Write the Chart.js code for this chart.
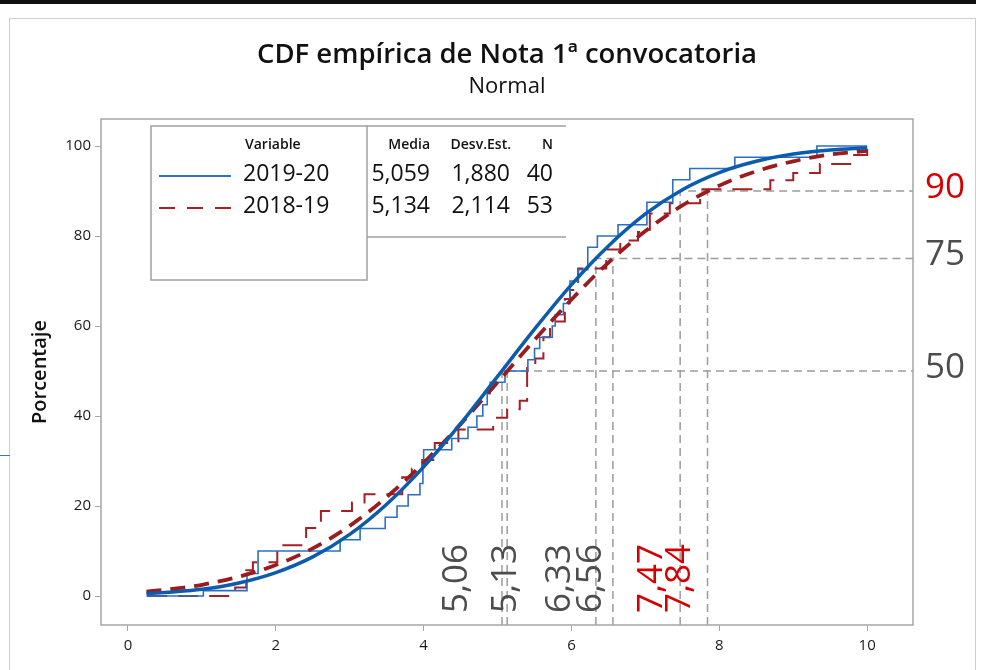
<!DOCTYPE html>
<html>
<head>
<meta charset="utf-8">
<script src="https://cdn.jsdelivr.net/npm/chart.js@4.4.1/dist/chart.umd.min.js"></script>
<style>
  html, body { margin: 0; padding: 0; background: #fff; }
</style>
</head>
<body>
<canvas id="cdfChart" width="988" height="670"></canvas>
<script>
// tick values
const xTicks = [0, 2, 4, 6, 8, 10];
const yTicks = [0, 20, 40, 60, 80, 100];

// series
const seriesNames = ["2019-20", "2018-19"];
const media = [5.059, 5.134];
const desvEst = [1.88, 2.114];
const nCount = [40, 53];

// fitted normal curves
const fitX = [0.25, 0.5, 1, 1.5, 2, 2.5, 3, 3.5, 4, 4.5, 5, 5.5, 6, 6.5, 7, 7.5, 8, 8.5, 9, 9.5, 10];
const fit2019 = [0.5, 0.8, 1.5, 2.9, 5.2, 8.7, 13.7, 20.4, 28.7, 38.3, 48.8, 59.3, 69.2, 77.8, 84.9, 90.3, 94.1, 96.6, 98.2, 99.1, 99.6];
const fit2018 = [1.0, 1.4, 2.5, 4.3, 6.9, 10.6, 15.6, 22.0, 29.6, 38.2, 47.5, 56.9, 65.9, 74.1, 81.1, 86.8, 91.2, 94.4, 96.6, 98.1, 98.9];

// empirical steps
const ecdfX2019 = [0.25, 1.02, 1.61, 1.76, 2.87, 3.14, 3.48, 3.64, 3.79, 3.95, 3.99, 4.0, 4.38, 4.6, 4.72, 4.8, 4.86, 4.9, 5.1, 5.41, 5.5, 5.57, 5.74, 5.78, 5.89, 5.98, 6.09, 6.22, 6.35, 6.63, 7.02, 7.37, 7.6, 8.21, 9.32, 10.0];
const ecdfP2019 = [0, 1.2, 5, 10, 12.5, 15, 17.5, 20, 22.5, 25, 30, 32.5, 35, 37.5, 40, 42.5, 45, 47.5, 50, 52.5, 55, 57.5, 60, 62.5, 65, 70, 72.5, 77.5, 80, 82.5, 87.5, 92.5, 95, 97.5, 100, 100];
const ecdfX2018 = [0.26, 1.45, 1.6, 1.69, 2.02, 2.41, 2.61, 3.03, 3.2, 3.71, 3.84, 3.98, 4.15, 4.47, 4.94, 5.13, 5.3, 5.4, 5.51, 5.62, 5.71, 5.91, 5.98, 6.09, 6.47, 6.66, 6.9, 7.06, 7.33, 7.74, 8.69, 9.0, 9.36, 9.77, 10.0];
const ecdfP2018 = [0, 1.9, 5.7, 7.5, 11.3, 15.1, 18.9, 20.8, 22.6, 26.4, 28.3, 30.2, 34, 37, 39.6, 41.5, 43.4, 50.9, 52.8, 57.5, 61, 66, 68, 72.8, 77, 79, 80.9, 85, 87.3, 90.4, 92.4, 94, 96, 98, 100];

// percentiles marked on the chart
const refPct = [50, 75, 90];
const quant2019 = [5.06, 6.33, 7.47];
const quant2018 = [5.13, 6.56, 7.84];

const xMin = -0.365, xMax = 10.62, yMin = -6.44, yMax = 106;
const grey = "#9c9c9c";
const labelGrey = "#4d4d4d";
const labelRed = "#d40000";
const pctColors = [labelGrey, labelGrey, labelRed];
const labelShift = [[-45, -36, -28], [-1, -22, -27]];

const pts = (xs, ys) => xs.map((v, i) => ({ x: v, y: ys[i] }));
const fmt = (v, d) => v.toFixed(d).replace(".", ",");

const refSets = [];
refPct.forEach((p, i) => {
  refSets.push({
    data: [{ x: quant2019[i], y: yMin }, { x: quant2019[i], y: p }, { x: xMax, y: p }],
    borderColor: grey, borderWidth: 1.5, borderDash: [8, 5], pointRadius: 0,
  });
  refSets.push({
    data: [{ x: quant2018[i], y: yMin }, { x: quant2018[i], y: p }],
    borderColor: grey, borderWidth: 1.5, borderDash: [8, 5], pointRadius: 0,
  });
});

const decor = {
  id: "decor",
  beforeDraw(chart) {
    const { ctx, width, height } = chart;
    ctx.save();
    ctx.fillStyle = "#fff";
    ctx.fillRect(0, 0, width, height);
    ctx.fillStyle = "#111";
    ctx.fillRect(0, 0, 976, 4);
    ctx.strokeStyle = "#cfcfcf";
    ctx.lineWidth = 1;
    ctx.strokeRect(9.5, 18.5, 966, 660);
    ctx.strokeStyle = "#3b78b8";
    ctx.beginPath();
    ctx.moveTo(0, 455.5);
    ctx.lineTo(10, 455.5);
    ctx.stroke();
    ctx.restore();
  },
  afterDraw(chart) {
    const { ctx, chartArea: a, scales } = chart;
    const x = scales.x, y = scales.y;
    ctx.save();

    // plot frame
    ctx.strokeStyle = "#a6a6a6";
    ctx.lineWidth = 1.5;
    ctx.strokeRect(a.left, a.top, a.right - a.left, a.bottom - a.top);

    // legend boxes
    ctx.fillStyle = "#fff";
    ctx.fillRect(151, 126, 415, 111);
    ctx.fillRect(151, 126, 216, 154);
    ctx.strokeStyle = "#a0a0a0";
    ctx.lineWidth = 1.5;
    ctx.strokeRect(151, 126, 216, 154);
    ctx.beginPath();
    ctx.moveTo(367, 126); ctx.lineTo(566, 126);
    ctx.moveTo(367, 237); ctx.lineTo(566, 237);
    ctx.stroke();

    ctx.fillStyle = "#111";
    ctx.textBaseline = "middle";
    ctx.font = "600 14px 'Open Sans'";
    ctx.textAlign = "left";
    ctx.fillText("Variable", 245, 145);
    ctx.textAlign = "right";
    ctx.fillText("Media", 430, 145);
    ctx.fillText("Desv.Est.", 511, 145);
    ctx.fillText("N", 553, 145);

    const rowY = [174, 206];
    const sample = [{ c: "#2b70c2", d: [] }, { c: "#a32024", d: [16, 12] }];
    seriesNames.forEach((name, i) => {
      ctx.strokeStyle = sample[i].c;
      ctx.lineWidth = 2;
      ctx.setLineDash(sample[i].d);
      ctx.beginPath();
      ctx.moveTo(159, rowY[i] + 2);
      ctx.lineTo(231, rowY[i] + 2);
      ctx.stroke();
      ctx.setLineDash([]);
      ctx.font = "23px 'Open Sans'";
      ctx.textAlign = "left";
      ctx.fillText(name, 243, rowY[i]);
      ctx.textAlign = "right";
      ctx.fillText(fmt(media[i], 3), 430, rowY[i]);
      ctx.fillText(fmt(desvEst[i], 3), 510, rowY[i]);
      ctx.fillText(String(nCount[i]), 553, rowY[i]);
    });

    // percentile labels on the right
    ctx.font = "35px 'Open Sans'";
    ctx.textAlign = "left";
    refPct.forEach((p, i) => {
      ctx.fillStyle = pctColors[i];
      ctx.fillText(String(p), a.right + 12, y.getPixelForValue(p) - 3);
    });

    // quantile labels at the bottom
    [quant2019, quant2018].forEach((qs, s) => {
      qs.forEach((q, i) => {
        ctx.save();
        ctx.translate(x.getPixelForValue(q) + labelShift[s][i], 613);
        ctx.rotate(-Math.PI / 2);
        ctx.fillStyle = pctColors[i];
        ctx.textAlign = "left";
        ctx.fillText(fmt(q, 2), 0, 0);
        ctx.restore();
      });
    });

    ctx.restore();
  },
};

Chart.defaults.font.family = "'Open Sans', sans-serif";

const ctx = document.getElementById("cdfChart").getContext("2d");
const cdfChart = new Chart(ctx, {
  type: "line",
  data: {
    datasets: [
      {
        label: "2019-20 normal",
        data: pts(fitX, fit2019),
        borderColor: "#0b5cad",
        borderWidth: 3.5,
        pointRadius: 0,
        cubicInterpolationMode: "monotone",
      },
      {
        label: "2018-19 normal",
        data: pts(fitX, fit2018),
        borderColor: "#9b1b1f",
        borderWidth: 3.8,
        borderDash: [15, 9],
        pointRadius: 0,
        cubicInterpolationMode: "monotone",
      },
      {
        label: seriesNames[0],
        data: pts(ecdfX2019, ecdfP2019),
        borderColor: "#2b70c2",
        borderWidth: 1.6,
        stepped: true,
        pointRadius: 0,
      },
      {
        label: seriesNames[1],
        data: pts(ecdfX2018, ecdfP2018),
        borderColor: "#a32024",
        borderWidth: 2,
        borderDash: [20, 11],
        stepped: true,
        pointRadius: 0,
      },
      ...refSets,
    ],
  },
  options: {
    responsive: false,
    animation: false,
    layout: { padding: { left: 0, right: 75, top: 0, bottom: 0 } },
    scales: {
      x: {
        type: "linear",
        min: xMin,
        max: xMax,
        border: { display: false },
        grid: { drawOnChartArea: false, tickLength: 6, color: "#a6a6a6" },
        ticks: { color: "#1a1a1a", font: { size: 15, weight: "500" }, padding: 6 },
        afterBuildTicks: (s) => { s.ticks = xTicks.map((v) => ({ value: v })); },
        afterFit: (s) => { s.height = 45; },
      },
      y: {
        min: yMin,
        max: yMax,
        border: { display: false },
        grid: { drawOnChartArea: false, tickLength: 6, color: "#a6a6a6" },
        ticks: { color: "#1a1a1a", font: { size: 15, weight: "500" }, padding: 4 },
        afterBuildTicks: (s) => { s.ticks = yTicks.map((v) => ({ value: v })); },
        afterFit: (s) => { s.width = 101; },
        title: {
          display: true,
          text: "Porcentaje",
          color: "#111",
          font: { size: 20, weight: "600" },
          padding: { top: 28, bottom: 0 },
        },
      },
    },
    plugins: {
      legend: { display: false },
      tooltip: { enabled: false },
      title: {
        display: true,
        text: "CDF empírica de Nota 1ª convocatoria",
        fullSize: false,
        color: "#111",
        font: { size: 27.5, weight: "600" },
        padding: { top: 39, bottom: 2 },
      },
      subtitle: {
        display: true,
        text: "Normal",
        fullSize: false,
        color: "#111",
        font: { size: 22, weight: "500" },
        padding: { top: 0, bottom: 18.6 },
      },
    },
  },
  plugins: [decor],
});
</script>
</body>
</html>
